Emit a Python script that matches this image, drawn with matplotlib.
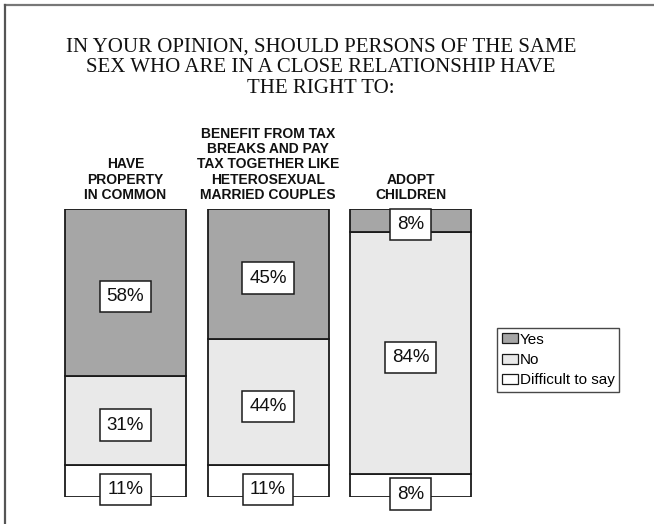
import matplotlib
matplotlib.use("Agg")
import matplotlib.pyplot as plt
from matplotlib.patches import Patch
from matplotlib.lines import Line2D

categories = ["HAVE\nPROPERTY\nIN COMMON",
              "BENEFIT FROM TAX\nBREAKS AND PAY\nTAX TOGETHER LIKE\nHETEROSEXUAL\nMARRIED COUPLES",
              "ADOPT\nCHILDREN"]
yes = [58, 45, 8]
no = [31, 44, 84]
difficult = [11, 11, 8]
series_names = ["Yes", "No", "Difficult to say"]
series_colors = ["#a6a6a6", "#e9e9e9", "#ffffff"]
title = ("IN YOUR OPINION, SHOULD PERSONS OF THE SAME\n"
         "SEX WHO ARE IN A CLOSE RELATIONSHIP HAVE\n"
         "THE RIGHT TO:")

W, H = 654, 524
fig = plt.figure(figsize=(W / 100, H / 100), dpi=100)
sans = ["Liberation Sans", "DejaVu Sans"]

# plot area in pixel terms
x0, x1 = 54.25, 54.25 + 427.5
y_bot, y_top = 497, 209
ax = fig.add_axes([x0 / W, 1 - y_bot / H, (x1 - x0) / W, (y_bot - y_top) / H])
ax.set_xlim(-0.5, 2.5)
ax.set_ylim(0, 100)
ax.axis("off")

xs = list(range(len(categories)))
width = 121 / 142.5
stack = [difficult, no, yes]
stack_colors = [series_colors[2], series_colors[1], series_colors[0]]
bottoms = [0] * len(xs)
for vals, col in zip(stack, stack_colors):
    ax.bar(xs, vals, width=width, bottom=bottoms, color=col,
           edgecolor="#1a1a1a", linewidth=1.3, zorder=2)
    for i, v in enumerate(vals):
        yc = bottoms[i] + v / 2
        if bottoms[i] == 0:
            yc = bottoms[i] + v / 2 - 3.0
        else:
            yc = yc - 1.5
        ax.text(i, yc, f"{v}%", ha="center", va="center", fontsize=13.5,
                family=sans, color="#111111", zorder=5, clip_on=False,
                bbox=dict(boxstyle="square,pad=0.38", fc="white",
                          ec="#1a1a1a", lw=1.1))
    bottoms = [b + v for b, v in zip(bottoms, vals)]

# category headers above each column
for i, cat in enumerate(categories):
    ax.annotate(cat, xy=(i, 100), xytext=(0, 5), textcoords="offset points",
                ha="center", va="bottom", fontsize=10, fontweight="bold",
                family=sans, linespacing=1.12, color="#111111")

fig.text(321 / W, 1 - 68 / H, title, ha="center", va="center",
         family=["Liberation Serif", "DejaVu Serif"], fontsize=15,
         linespacing=1.12, color="#111111")

handles = [Patch(facecolor=c, edgecolor="#1a1a1a", linewidth=0.9)
           for c in series_colors]
leg = fig.legend(handles, series_names, loc="upper left",
                 bbox_to_anchor=(497 / W, 1 - 328 / H),
                 prop={"family": sans, "size": 11}, frameon=True,
                 fancybox=False, handlelength=1.1, handleheight=0.65,
                 handletextpad=0.1, labelspacing=0.42, borderpad=0.3,
                 borderaxespad=0)
leg.get_frame().set_edgecolor("#1a1a1a")
leg.get_frame().set_linewidth(1.0)

# outer frame along top and left edges
fig.add_artist(Line2D([5 / W, 1], [1 - 4.5 / H, 1 - 4.5 / H],
                      transform=fig.transFigure, color="#777777", lw=1.6))
fig.add_artist(Line2D([5 / W, 5 / W], [0, 1 - 4.5 / H],
                      transform=fig.transFigure, color="#555555", lw=1.6))

fig.savefig("out.png", dpi=100, facecolor="white")
